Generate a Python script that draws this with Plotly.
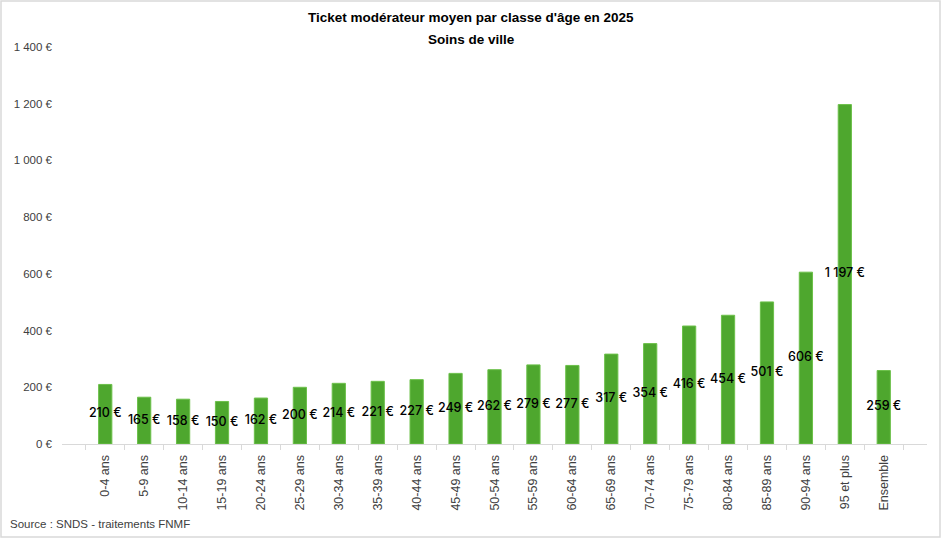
import plotly.graph_objects as go

categories = ["0-4 ans", "5-9 ans", "10-14 ans", "15-19 ans", "20-24 ans", "25-29 ans",
              "30-34 ans", "35-39 ans", "40-44 ans", "45-49 ans", "50-54 ans", "55-59 ans",
              "60-64 ans", "65-69 ans", "70-74 ans", "75-79 ans", "80-84 ans", "85-89 ans",
              "90-94 ans", "95 et plus", "Ensemble"]
values = [210, 165, 158, 150, 162, 200, 214, 221, 227, 249, 262, 279, 277, 317, 354, 416,
          454, 501, 606, 1197, 259]
y_ticks = [0, 200, 400, 600, 800, 1000, 1200, 1400]


def fmt(v):
    s = f"{v:,}".replace(",", " ")
    return s + " €"


W, H = 942, 539
L, R, T, B = 62, 15, 47, 95
PW, PH = W - L - R, H - T - B

fig = go.Figure()
fig.add_trace(go.Bar(
    x=categories, y=values,
    marker=dict(color="#4ea72e", line=dict(color="#6cc04a", width=1)),
    hoverinfo="skip",
))
fig.add_trace(go.Scatter(
    x=categories, y=[v / 2 for v in values],
    mode="text", text=[fmt(v) for v in values],
    textfont=dict(family="Inter, Open Sans, sans-serif", size=12.5, color="#000000", weight=500),
    textposition="middle center",
    hoverinfo="skip",
))

fig.update_layout(
    width=W, height=H,
    margin=dict(l=L, r=R, t=T, b=B),
    paper_bgcolor="white", plot_bgcolor="white",
    showlegend=False,
    bargap=0.66,
    font=dict(family="Liberation Sans, Arial, sans-serif", size=12, color="#404040"),
    xaxis=dict(
        type="category",
        tickangle=-90,
        showline=True, linecolor="#d9d9d9", linewidth=1,
        ticks="outside", ticklen=5, tickcolor="#d9d9d9", tickson="boundaries",
        showgrid=False,
        tickfont=dict(size=12.5, color="#404040"),
        ticklabelstandoff=5,
    ),
    yaxis=dict(
        range=[0, 1400],
        tickvals=y_ticks, ticktext=[fmt(v) for v in y_ticks],
        showgrid=False, zeroline=False, showline=False,
        tickfont=dict(size=11.5, color="#404040"),
        ticks="", ticklabelstandoff=9,
    ),
    annotations=[
        dict(
            text="<b>Ticket modérateur moyen par classe d'âge en 2025</b>",
            xref="paper", yref="paper", x=(W / 2 - L) / PW, y=1 + (T - 18) / PH,
            xanchor="center", yanchor="middle", showarrow=False,
            font=dict(family="Liberation Sans Narrow, Liberation Sans, sans-serif", size=13.5, color="#000000"),
        ),
        dict(
            text="<b>Soins de ville</b>",
            xref="paper", yref="paper", x=(W / 2 - L) / PW, y=1 + (T - 39) / PH,
            xanchor="center", yanchor="middle", showarrow=False,
            font=dict(family="Liberation Sans Narrow, Liberation Sans, sans-serif", size=13.5, color="#000000"),
        ),
        dict(
            text="Source : SNDS - traitements FNMF",
            xref="paper", yref="paper", x=-(L - 8) / PW, y=-(524 - (H - B)) / PH,
            xanchor="left", yanchor="middle", showarrow=False,
            font=dict(size=11.5, color="#404040"),
        ),
    ],
    shapes=[dict(
        type="rect", xref="paper", yref="paper",
        x0=-(L - 1) / PW, x1=1 + (R - 2) / PW, y0=-(B - 2) / PH, y1=1 + (T - 1) / PH,
        line=dict(color="#d9d9d9", width=1.5),
    )],
)

fig.write_html("out.html")
